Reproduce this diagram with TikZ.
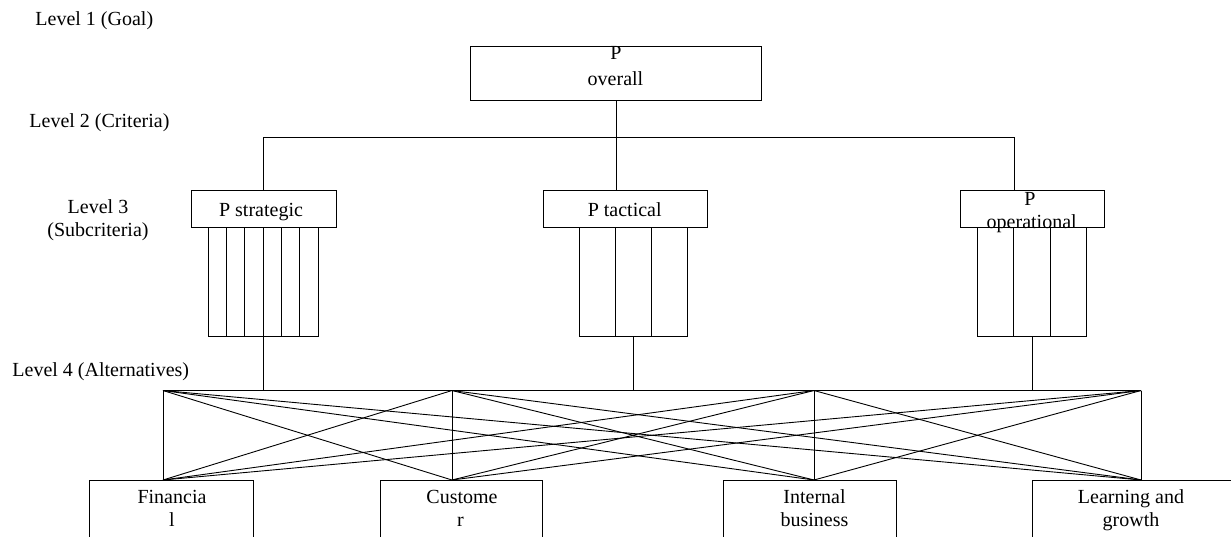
\documentclass[tikz,border=0pt]{standalone}
\usepackage{fontspec}
\setmainfont{Liberation Serif}
\usetikzlibrary{calc}
\begin{document}
\begin{tikzpicture}[x=1pt,y=-1pt,line width=0.9pt,
  box/.style={draw,line width=0.9pt,inner sep=0pt,outer sep=0pt},
  txt/.style={font=\fontsize{20}{23}\selectfont,inner sep=0pt,anchor=base}]
\useasboundingbox (0,0) rectangle (1231,536);
\clip (0,0) rectangle (1231,536);
% level labels
\node[txt,anchor=base west] (l1) at (35,25) {Level 1 (Goal)};
\node[txt,anchor=base west] (l2) at (29,127) {Level 2 (Criteria)};
\node[txt] (l3a) at (98,213) {Level 3};
\node[txt] (l3b) at (98,236) {(Subcriteria)};
\node[txt,anchor=base west] (l4) at (12,376) {Level 4 (Alternatives)};
% goal
\node[box,minimum width=291pt,minimum height=54pt] (ov) at (616,73) {};
\node[txt] (ovt1) at (616,59) {P};
\node[txt] (ovt2) at (615.5,85) {overall};
% criteria boxes
\node[box,minimum width=145pt,minimum height=37pt] (st) at (263.5,208.5) {};
\node[box,minimum width=164pt,minimum height=37pt] (ta) at (625,208.5) {};
\node[box,minimum width=144pt,minimum height=37pt] (op) at (1032,208.5) {};
\node[txt] (stt) at (261,216.5) {P strategic};
\node[txt] (tat) at (624.7,216.5) {P tactical};
\node[txt] (opt1) at (1030,205) {P};
\node[txt] (opt2) at (1031.7,228) {operational};
% tree connectors
\coordinate (h1) at (263.5,137);
\coordinate (h2) at (616,137);
\coordinate (h3) at (1014,137);
\draw (h1) -- (h3);
\draw (ov.south) -- (h2);
\draw (h1) -- (h1 |- st.north);
\draw (h2) -- (h2 |- ta.north);
\draw (h3) -- (h3 |- op.north);
% subcriteria columns
\node[box,minimum width=110pt,minimum height=109pt] (s1) at (263.2,281.5) {};
\node[box,minimum width=107.6pt,minimum height=109pt] (s2) at (633.5,281.5) {};
\node[box,minimum width=109.4pt,minimum height=109pt] (s3) at (1032,281.5) {};
\foreach \k in {1,...,5}
  \draw ($(s1.north west)!\k/6!(s1.north east)$) -- ($(s1.south west)!\k/6!(s1.south east)$);
\foreach \k in {1,2}{
  \draw ($(s2.north west)!\k/3!(s2.north east)$) -- ($(s2.south west)!\k/3!(s2.south east)$);
  \draw ($(s3.north west)!\k/3!(s3.north east)$) -- ($(s3.south west)!\k/3!(s3.south east)$);}
% alternatives connection lattice
\coordinate (T1) at (163,390.5);
\coordinate (T2) at (452,390.5);
\coordinate (T3) at (814,390.5);
\coordinate (T4) at (1141,390.5);
\coordinate (B1) at (163,480);
\coordinate (B2) at (452,480);
\coordinate (B3) at (814,480);
\coordinate (B4) at (1141,480);
\draw (T1) -- (T4);
\draw (s1.south) -- (s1.south |- T1);
\draw (s2.south) -- (s2.south |- T1);
\draw (s3.south) -- (s3.south |- T1);
\foreach \i in {1,...,4}
  \foreach \j in {1,...,4}
    \draw (T\i) -- (B\j);
% alternatives
\node[box,minimum width=164pt,minimum height=65.5pt] (a1) at (171.3,513.25) {};
\node[box,minimum width=162.7pt,minimum height=65.5pt] (a2) at (461.3,513.25) {};
\node[box,minimum width=173.4pt,minimum height=65.5pt] (a3) at (810,513.25) {};
\node[box,minimum width=200pt,minimum height=65.5pt] (a4) at (1132.7,513.25) {};
\node[txt] (a1t1) at (172,503.3) {Financia};
\node[txt] (a1t2) at (172,526.7) {l};
\node[txt] (a2t1) at (462,503.3) {Custome};
\node[txt] (a2t2) at (460.5,526.7) {r};
\node[txt] (a3t1) at (814.5,503.3) {Internal};
\node[txt] (a3t2) at (814.5,526.7) {business};
\node[txt] (a4t1) at (1131,503.3) {Learning and};
\node[txt] (a4t2) at (1131,526.7) {growth};
\end{tikzpicture}
\end{document}
